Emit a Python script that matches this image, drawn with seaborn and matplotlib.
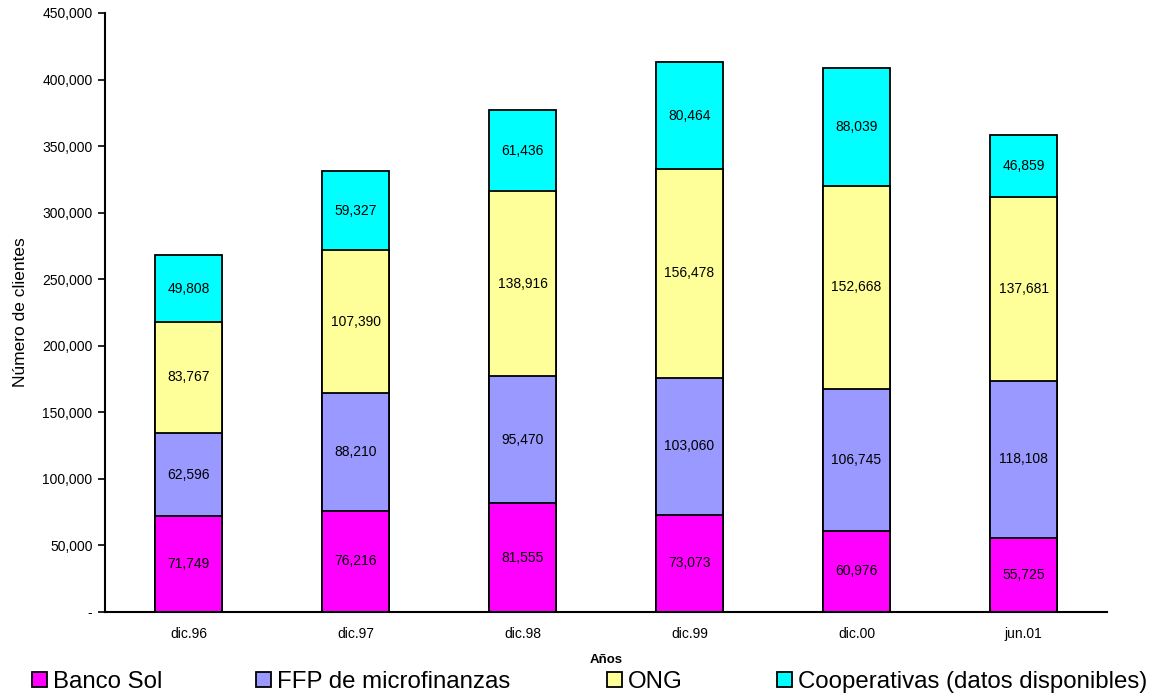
import matplotlib
matplotlib.use("Agg")
import matplotlib.pyplot as plt
import matplotlib.ticker as mticker
from matplotlib.patches import Patch
import numpy as np
import pandas as pd
import seaborn as sns

periodos = ["dic.96", "dic.97", "dic.98", "dic.99", "dic.00", "jun.01"]
banco_sol = [71749, 76216, 81555, 73073, 60976, 55725]
ffp = [62596, 88210, 95470, 103060, 106745, 118108]
ong = [83767, 107390, 138916, 156478, 152668, 137681]
cooperativas = [49808, 59327, 61436, 80464, 88039, 46859]

series = ["Banco Sol", "FFP de microfinanzas", "ONG", "Cooperativas (datos disponibles)"]
valores = [banco_sol, ffp, ong, cooperativas]
colores = ["#FF00FF", "#9999FF", "#FFFF99", "#00FFFF"]

sns.set_theme(style="white")
plt.rcParams["font.family"] = ["Liberation Sans", "DejaVu Sans"]
plt.rcParams["text.color"] = "black"
plt.rcParams["axes.labelcolor"] = "black"

fig = plt.figure(figsize=(11.65, 7.0), dpi=100)
ax = fig.add_axes([105 / 1165, 1 - 612 / 700, (1107 - 105) / 1165, (612 - 13) / 700])

# cumulative tops, drawn from the highest layer down so lower layers sit in front
acum = np.cumsum(np.array(valores), axis=0)
for k in range(len(series) - 1, -1, -1):
    df = pd.DataFrame({"periodo": periodos, "total": acum[k]})
    sns.barplot(data=df, x="periodo", y="total", order=periodos, color=colores[k],
                saturation=1, width=0.4, edgecolor="black", linewidth=1.3, ax=ax,
                errorbar=None)

# value labels centred in each segment
for k in range(len(series)):
    for i, v in enumerate(valores[k]):
        ax.text(i, acum[k][i] - v / 2, f"{v:,}", ha="center", va="center",
                fontsize=10, color="black")

ax.set_ylim(0, 450000)
ax.set_xlim(-0.5, len(periodos) - 0.5)
ax.yaxis.set_major_locator(mticker.MultipleLocator(50000))
ax.yaxis.set_major_formatter(mticker.FuncFormatter(lambda y, p: "-" if y == 0 else f"{int(y):,}"))
ax.tick_params(axis="y", which="major", direction="out", length=5, width=1.2,
               left=True, labelsize=10, pad=4, colors="black")
ax.tick_params(axis="x", length=0, labelsize=10, pad=11, colors="black")

for side in ["top", "right"]:
    ax.spines[side].set_visible(False)
for side in ["left", "bottom"]:
    ax.spines[side].set_color("black")
    ax.spines[side].set_linewidth(1.5)

ax.set_xlabel("Años", fontsize=9.5, fontweight="bold", labelpad=9, color="black")
ax.set_ylabel("Número de clientes", fontsize=12.5, labelpad=10, color="black")

# legend entries, each placed along the bottom row
posiciones = [32 / 1165, 256 / 1165, 607 / 1165, 777 / 1165]
for nombre, col, xpos in zip(series, colores, posiciones):
    h = Patch(facecolor=col, edgecolor="black", linewidth=1.3)
    fig.legend([h], [nombre], loc="center left", bbox_to_anchor=(xpos, 1 - 682 / 700),
               frameon=False, fontsize=17.3, handlelength=0.62, handleheight=0.62,
               handletextpad=0.25, borderpad=0, borderaxespad=0, labelcolor="black")

fig.savefig("out.png", dpi=100, facecolor="white")
